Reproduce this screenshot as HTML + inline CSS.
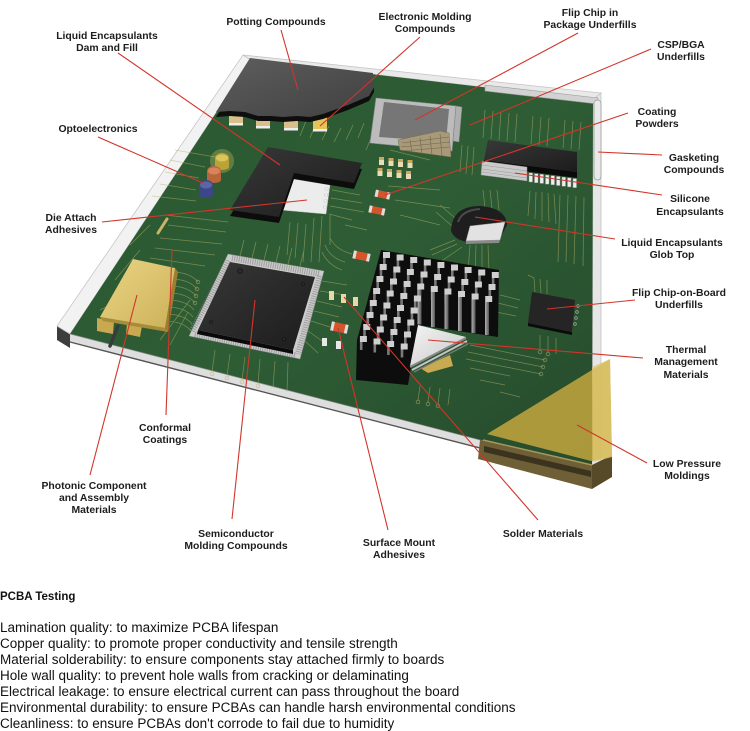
<!DOCTYPE html>
<html><head><meta charset="utf-8"><style>
html,body{margin:0;padding:0;background:#fff;width:750px;height:731px;overflow:hidden}
svg{display:block}
.l{font-family:"Liberation Sans",Arial,sans-serif;font-weight:bold;font-size:10.4px;fill:#1d1d1d;text-anchor:middle}
.t{font-family:"Liberation Sans",Arial,sans-serif;font-size:13.5px;fill:#111}
.h{font-family:"Liberation Sans",Arial,sans-serif;font-size:11.5px;font-weight:bold;fill:#111}
</style></head><body>
<svg width="750" height="731" viewBox="0 0 750 731" xmlns="http://www.w3.org/2000/svg">
<defs>
 <linearGradient id="gb" x1="0" y1="0" x2="1" y2="1">
  <stop offset="0" stop-color="#2a5730"/><stop offset="0.5" stop-color="#2e5d35"/><stop offset="1" stop-color="#264b2c"/>
 </linearGradient>
 <linearGradient id="gpot" x1="0" y1="0" x2="1" y2="1">
  <stop offset="0" stop-color="#5e5e5e"/><stop offset="1" stop-color="#404040"/>
 </linearGradient>
 <linearGradient id="gblk" x1="0" y1="0" x2="1" y2="1">
  <stop offset="0" stop-color="#383838"/><stop offset="1" stop-color="#1c1c1c"/>
 </linearGradient>
 <linearGradient id="ggold" x1="0" y1="0" x2="1" y2="1">
  <stop offset="0" stop-color="#ead584"/><stop offset="1" stop-color="#cdb15a"/>
 </linearGradient>
 <linearGradient id="gfin" x1="0" y1="0" x2="1" y2="0">
  <stop offset="0" stop-color="#b0b0b0"/><stop offset="1" stop-color="#555"/>
 </linearGradient>
 <linearGradient id="gpad" x1="0" y1="0" x2="1" y2="1">
  <stop offset="0" stop-color="#f4f4f4"/><stop offset="1" stop-color="#c8c8c8"/>
 </linearGradient>
 <g id="pt"><rect y="6" width="2.6" height="8" fill="#7a7a7a"/><rect width="7" height="6" fill="#cfcfcf"/></g>
</defs>

<!-- tray / walls -->
<polygon points="70,334 592,469 592,477 70,342" fill="#dedede"/>
<polyline points="70,342 592,477" fill="none" stroke="#555" stroke-width="1.4"/>
<polygon points="57,326 70,334 70,348 57,340" fill="#3d3d3d"/>
<polygon points="243,55 251,60 70,334 57,326" fill="#f2f2f2" stroke="#c6c6c6" stroke-width="0.8"/>
<polygon points="243,55 601,93 593,100 251,60" fill="#e9e9e9" stroke="#c4c4c4" stroke-width="0.8"/>
<polygon points="593,100 601,93 601,464 592,469" fill="#e6e6e6" stroke="#c4c4c4" stroke-width="0.8"/>

<!-- board -->
<polygon points="251,60 593,100 592,469 70,334" fill="url(#gb)"/>
<polyline points="70,334 592,469" fill="none" stroke="#8f8f8f" stroke-width="0.7"/>

<!-- traces -->
<path fill="none" stroke="#b8b36c" stroke-width="0.75" opacity="0.55" d="
M300,136 L306,121 M310,138 L316,123 M322,140 L329,126 M334,142 L341,128 M346,140 L353,125 M358,138 L364,123 M366,150 L372,136
M485,110 L483,138 M493,111 L491,139 M501,112 L499,140 M509,113 L507,141 M517,114 L515,142 M533,116 L531,144 M541,117 L539,145 M549,118 L547,146 M565,120 L563,148 M573,121 L571,149 M581,122 L579,150
M462,145 L460,172 M468,146 L466,174 M474,147 L472,175
M530,191 L528,216 M536,192 L535,219 M542,192 L542,221 M548,193 L549,222 M554,194 L556,224 M560,195 L558,262 M568,195 L566,262 M576,196 L574,264 M584,197 L583,266
M175,150 L215,157 M170,160 L205,167 M165,172 L199,178 M160,184 L196,190 M152,196 L196,201
M165,215 L228,222 M168,225 L226,232 M160,238 L222,244 M155,248 L215,255 M150,258 L205,266
M290,222 L287,255 M298,223 L295,258 M306,224 L303,262 M314,218 L311,262 M322,216 L319,262 M330,214 L330,245
M332,190 L360,195 M331,198 L362,203 M330,206 L364,212 M329,214 L352,220 M345,225 L367,230
M171,272 Q190,272 198,282 M170,279 Q189,279 197,289 M169,286 Q188,286 196,296 M168,293 Q187,293 195,303 M167,300 Q186,300 194,310 M166,307 Q185,307 193,317 M165,314 Q184,314 192,324 M164,321 Q183,321 191,331
M240,256 L244,240 M252,258 L256,242 M264,260 L268,244 M276,262 L280,246 M288,264 L292,248 M300,266 L304,250
M322,281 L347,285 M320,291 L345,295 M317,301 L342,307 M314,311 L339,317 M311,321 L330,327 M308,331 L322,341 M305,341 L318,353
M215,350 L212,372 M230,354 L227,376 M245,357 L242,380 M260,359 L258,384 M275,361 L273,388 M288,362 L287,392
M190,300 L160,340 M188,312 L170,345
M470,345 L545,360 M468,352 L543,367 M466,359 L541,374 M470,368 L510,376 M480,380 L505,385 M500,392 L520,397
M455,240 L430,250 M457,244 L432,255 M462,247 L440,262 M470,245 L468,272 M476,245 L475,275 M482,245 L482,275 M488,245 L489,272
M483,190 L485,208 M490,190 L492,208 M497,190 L499,210 M440,205 L455,218 M436,212 L452,226
M535,292 L534,278 L528,275 M541,293 L540,279 M547,294 L547,280 M520,300 L500,295 M518,308 L498,303 M516,316 L496,312 M540,335 L540,350 M548,336 L548,352 M556,338 L556,354
M325,245 Q330,258 345,262 M322,252 Q328,265 342,270 M330,238 Q336,250 352,254
M420,386 L418,400 M430,387 L428,402 M440,388 L438,404 M450,389 L448,405
M390,150 L430,160 M388,186 L440,190 M395,200 L450,208 M400,215 L440,225
M120,300 L100,310 M115,280 L140,250 M130,245 L150,225"/>
<g fill="none" stroke="#b9b070" stroke-width="0.8" opacity="0.6">
<circle cx="198" cy="282" r="1.8"/><circle cx="197" cy="289" r="1.8"/><circle cx="196" cy="296" r="1.8"/><circle cx="195" cy="303" r="1.8"/>
<circle cx="545" cy="360" r="1.8"/><circle cx="543" cy="367" r="1.8"/><circle cx="541" cy="374" r="1.8"/>
<circle cx="212" cy="374" r="1.8"/><circle cx="227" cy="378" r="1.8"/><circle cx="242" cy="382" r="1.8"/><circle cx="258" cy="386" r="1.8"/>
<circle cx="468" cy="274" r="1.8"/><circle cx="475" cy="277" r="1.8"/><circle cx="482" cy="277" r="1.8"/>
<circle cx="418" cy="402" r="1.8"/><circle cx="428" cy="404" r="1.8"/><circle cx="438" cy="406" r="1.8"/>
<circle cx="540" cy="352" r="1.8"/><circle cx="548" cy="354" r="1.8"/>
</g>

<!-- top rail + gasket -->
<polygon points="485,85 598,98 598,104 485,91" fill="#d2d2d2" stroke="#9a9a9a" stroke-width="0.6"/>
<rect x="594" y="100" width="7" height="80" rx="3.5" fill="#e9e9e9" stroke="#9d9d9d" stroke-width="0.8"/>

<!-- SMDs under potting -->
<g>
<rect x="229" y="113" width="14" height="12" fill="#d9c08a"/><rect x="229" y="123" width="14" height="2.5" fill="#eee"/>
<rect x="256" y="116" width="14" height="12" fill="#d9c08a"/><rect x="256" y="126" width="14" height="2.5" fill="#eee"/>
<rect x="284" y="118" width="14" height="12" fill="#d9c08a"/><rect x="284" y="128" width="14" height="2.5" fill="#eee"/>
<rect x="313" y="117" width="14" height="14" fill="#e6c25a"/><rect x="313" y="129" width="14" height="2.5" fill="#eee"/>
</g>
<!-- potting slab -->
<polygon transform="translate(0,5)" points="250,58 373,73 374,87 369,96 348,105 334,110 323,114 310,117 297,116 283,117 271,116 258,116 245,112 230,111 216,112" fill="#0e0e0e"/>
<polygon points="250,58 373,73 374,87 369,96 348,105 334,110 323,114 310,117 297,116 283,117 271,116 258,116 245,112 230,111 216,112" fill="url(#gpot)"/>

<!-- electronic molding chip -->
<polygon points="376,98 456,106 452,151 370,143" fill="#bcbcbc" stroke="#8a8a8a" stroke-width="0.6"/>
<polygon points="384,102 449,109 446,142 379,137" fill="#767676"/>
<polygon points="398,140 440,131 449,133 451,157 400,150" fill="#a89a78" stroke="#7a6e55" stroke-width="0.5"/>
<path d="M402,143 L449,137 M401,147 L450,142 M402,151 L450,147 M410,140 L412,153 M420,138 L422,154 M430,136 L432,155 M440,134 L442,156" stroke="#6e6350" stroke-width="0.6" fill="none"/>
<polygon points="456,106 462,107 459,142 453,141" fill="#b0b0b0" stroke="#808080" stroke-width="0.5"/>

<!-- tan SMD grid -->
<g fill="#e8ddb8">
<rect x="379" y="157" width="5" height="8"/><rect x="388.5" y="158" width="5" height="8"/><rect x="398" y="159" width="5" height="8"/><rect x="407.5" y="160" width="5" height="8"/>
<rect x="377.5" y="168" width="5" height="8"/><rect x="387" y="169" width="5" height="8"/><rect x="396.5" y="170" width="5" height="8"/><rect x="406" y="171" width="5" height="8"/>
</g>
<g fill="#c9a860">
<rect x="379" y="157" width="5" height="3"/><rect x="388.5" y="158" width="5" height="3"/><rect x="398" y="159" width="5" height="3"/><rect x="407.5" y="160" width="5" height="3"/>
<rect x="377.5" y="168" width="5" height="3"/><rect x="387" y="169" width="5" height="3"/><rect x="396.5" y="170" width="5" height="3"/><rect x="406" y="171" width="5" height="3"/>
</g>

<!-- orange SMDs -->
<g transform="rotate(12 382 195)"><rect x="375" y="191" width="15" height="7" fill="#d4552c"/><rect x="375" y="191" width="3" height="7" fill="#ddd"/><rect x="387" y="191" width="3" height="7" fill="#ddd"/></g>
<g transform="rotate(12 377 210)"><rect x="369" y="207" width="16" height="7" fill="#d4552c"/><rect x="369" y="207" width="3" height="7" fill="#ddd"/><rect x="382" y="207" width="3" height="7" fill="#ddd"/></g>
<g transform="rotate(12 361 256)"><rect x="353" y="252" width="17" height="8" fill="#d4552c"/><rect x="353" y="252" width="3" height="8" fill="#ddd"/><rect x="367" y="252" width="3" height="8" fill="#ddd"/></g>
<g transform="rotate(12 339 327)"><rect x="331" y="323" width="17" height="9" fill="#d4552c"/><rect x="331" y="323" width="3" height="9" fill="#ddd"/><rect x="345" y="323" width="3" height="9" fill="#ddd"/></g>

<!-- small pads -->
<rect x="329" y="291" width="5" height="9" fill="#e6d8a8"/><rect x="341" y="294" width="5" height="9" fill="#e6d8a8"/><rect x="353" y="297" width="5" height="9" fill="#e6d8a8"/>
<rect x="322" y="338" width="5" height="8" fill="#e8e8e8"/><rect x="336" y="341" width="5" height="8" fill="#e8e8e8"/>

<!-- SOIC -->
<polygon points="484,160 577,172 577,178 484,166" fill="#0a0a0a"/>
<polygon points="488,140 577,152 577,172 484,160" fill="url(#gblk)"/>
<g fill="#eee" stroke="#999" stroke-width="0.4">
<rect x="529" y="173" width="3.5" height="9"/><rect x="534.5" y="173.7" width="3.5" height="9"/><rect x="540" y="174.4" width="3.5" height="9"/><rect x="545.5" y="175.1" width="3.5" height="9"/><rect x="551" y="175.8" width="3.5" height="9"/><rect x="556.5" y="176.5" width="3.5" height="9"/><rect x="562" y="177.2" width="3.5" height="9"/><rect x="567.5" y="177.9" width="3.5" height="9"/><rect x="573" y="178.6" width="3.5" height="9"/>
</g>
<polygon points="482,161 527,167 527,181 481,175" fill="#cacaca" stroke="#8a8a8a" stroke-width="0.5"/>
<path d="M482,165 L527,171 M482,169 L527,175 M482,172 L527,178" stroke="#9a9a9a" stroke-width="0.5"/>

<!-- glob top -->
<path d="M451,231 Q452,206 480,206 Q506,208 507,225 L500,238 L470,242 Q455,241 451,231Z" fill="#1e1e1e"/>
<path d="M458,222 Q462,210 480,209" stroke="#4a4a4a" stroke-width="2" fill="none"/>
<polygon points="470,226 505,222 500,240 466,241" fill="#e2e2e2" stroke="#999" stroke-width="0.5"/>
<polygon points="466,241 500,240 499,243 466,244" fill="#8a8a8a"/>

<!-- flip chip on board -->
<polygon points="528,323 572,332 572,335 528,326" fill="#0b0b0b"/>
<polygon points="532,292 575,300 572,332 528,323" fill="#252525"/>
<g fill="none" stroke="#bbb" stroke-width="0.6"><circle cx="578" cy="306" r="1.3"/><circle cx="577" cy="312" r="1.3"/><circle cx="576" cy="318" r="1.3"/><circle cx="575" cy="324" r="1.3"/></g>

<!-- white die square + L dam -->
<polygon points="293,179 330,185 326,214 281,210" fill="#ececec" stroke="#bdbdbd" stroke-width="0.5"/>
<g fill="#fff" stroke="#aaa" stroke-width="0.4"><rect x="325" y="188" width="3" height="2"/><rect x="324.5" y="194" width="3" height="2"/><rect x="324" y="200" width="3" height="2"/><rect x="323.5" y="206" width="3" height="2"/></g>
<polygon transform="translate(0,6)" points="268,147 362,163 354,183 294,173 279,217 230,210" fill="#0c0c0c"/>
<polygon points="268,147 362,163 354,183 294,173 279,217 230,210" fill="url(#gblk)"/>

<!-- LEDs -->
<circle cx="222" cy="161" r="12" fill="#d8d070" opacity="0.3"/>
<path d="M215,158 a7,5 0 0 1 14,0 v9 a7,3 0 0 1 -14,0z" fill="#bba236"/>
<ellipse cx="222" cy="158" rx="6" ry="3.5" fill="#d8c65a"/>
<path d="M207,171 a7,5 0 0 1 14,0 v9 a7,3 0 0 1 -14,0z" fill="#b8663a"/>
<ellipse cx="214" cy="171" rx="6" ry="3.5" fill="#d6855a"/>
<path d="M199,185 a7,5 0 0 1 14,0 v10 a7,3 0 0 1 -14,0z" fill="#3b4789"/>
<ellipse cx="206" cy="185" rx="6" ry="3.5" fill="#5a66a6"/>

<!-- die attach strip -->
<line x1="158" y1="233" x2="167" y2="219" stroke="#c9b46a" stroke-width="3" stroke-linecap="round"/>

<!-- photonic box -->
<polygon points="97,318 114,321 113,334 97,331" fill="#c8a850"/>
<polygon points="127,323 142,326 140,337 126,334" fill="#c8a850"/>
<path d="M118,326 L110,346" stroke="#3a3a3a" stroke-width="3.5" stroke-linecap="round"/>
<polygon points="175,268 178,272 168,332 165,328" fill="#9a8030"/>
<polygon points="100,317 165,328 168,332 103,321" fill="#a88c38"/>
<polygon points="133,259 175,268 165,328 100,317" fill="url(#ggold)"/>

<!-- QFP -->
<polygon points="228,254 324,271 300,359 189,336" fill="#cbcbcb" stroke="#8a8a8a" stroke-width="0.5"/>
<g stroke="#8c8c8c" stroke-width="6" stroke-dasharray="1 1.3" opacity="0.7">
<line x1="232" y1="258" x2="320" y2="274"/><line x1="320" y1="276" x2="298" y2="354"/><line x1="295" y1="355" x2="194" y2="334"/><line x1="192" y1="331" x2="229" y2="260"/>
</g>
<polygon points="198,330 293,350 293,354 197,334" fill="#0a0a0a"/>
<polygon points="230,262 315,277 293,350 198,330" fill="url(#gblk)"/>
<g fill="#2b2b2b" stroke="#111" stroke-width="0.6"><circle cx="240" cy="271" r="2.5"/><circle cx="303" cy="284" r="1.5"/><circle cx="284" cy="339" r="1.5"/><circle cx="211" cy="322" r="1.5"/></g>

<!-- heatsink -->
<polygon points="381,250 499,270 498,337 418,325 408,385 356,380 357,340" fill="#0d0d0d"/>
<use href="#pt" x="383" y="252"/><use href="#pt" x="396.6" y="254.5"/><use href="#pt" x="410.2" y="257"/><use href="#pt" x="423.8" y="259.5"/><use href="#pt" x="437.4" y="262"/><use href="#pt" x="451" y="264.5"/><use href="#pt" x="464.6" y="267"/><use href="#pt" x="478.2" y="269.5"/><use href="#pt" x="491.8" y="272"/>
<use href="#pt" x="379.7" y="264"/><use href="#pt" x="393.3" y="266.5"/><use href="#pt" x="406.9" y="269"/><use href="#pt" x="420.5" y="271.5"/><use href="#pt" x="434.1" y="274"/><use href="#pt" x="447.7" y="276.5"/><use href="#pt" x="461.3" y="279"/><use href="#pt" x="474.9" y="281.5"/><use href="#pt" x="488.5" y="284"/>
<use href="#pt" x="376.4" y="276"/><use href="#pt" x="390" y="278.5"/><use href="#pt" x="403.6" y="281"/><use href="#pt" x="417.2" y="283.5"/><use href="#pt" x="430.8" y="286"/><use href="#pt" x="444.4" y="288.5"/><use href="#pt" x="458" y="291"/><use href="#pt" x="471.6" y="293.5"/><use href="#pt" x="485.2" y="296"/>
<g fill="url(#gfin)">
<rect x="417.5" y="289.5" width="4" height="35"/><rect x="431" y="292" width="4" height="35"/><rect x="444.5" y="294.5" width="4" height="34.5"/><rect x="458" y="297" width="4" height="34"/><rect x="471.5" y="299.5" width="4" height="33.5"/><rect x="485" y="302" width="4" height="33"/>
</g>
<use href="#pt" x="373.1" y="288"/><use href="#pt" x="386.7" y="290.5"/><use href="#pt" x="400.3" y="293"/><use href="#pt" x="413.9" y="295.5"/>
<use href="#pt" x="369.8" y="300"/><use href="#pt" x="383.4" y="302.5"/><use href="#pt" x="397" y="305"/><use href="#pt" x="410.6" y="307.5"/>
<use href="#pt" x="366.5" y="312"/><use href="#pt" x="380.1" y="314.5"/><use href="#pt" x="393.7" y="317"/><use href="#pt" x="407.3" y="319.5"/>
<use href="#pt" x="363.2" y="324"/><use href="#pt" x="376.8" y="326.5"/><use href="#pt" x="390.4" y="329"/><use href="#pt" x="404" y="331.5"/>
<use href="#pt" x="359.9" y="336"/><use href="#pt" x="373.5" y="338.5"/><use href="#pt" x="387.1" y="341"/><use href="#pt" x="400.7" y="343.5"/>
<!-- thermal pad -->
<polygon points="420,368 450,355 453,366 428,373" fill="#c8aa50"/>
<polygon points="418,325 466,337 410,366" fill="url(#gpad)"/>
<line x1="466" y1="338" x2="410" y2="367" stroke="#8a8a8a" stroke-width="2"/>
<line x1="467" y1="341" x2="412" y2="370" stroke="#c4c4c4" stroke-width="2"/>
<line x1="468" y1="344" x2="414" y2="372" stroke="#777" stroke-width="1.4"/>

<!-- low pressure molding -->
<polygon points="480,440 592,465 592,489 478,459" fill="#6e5f36"/>
<polygon points="592,465 612,455 612,477 592,489" fill="#574a29"/>
<polygon points="484,446 591,471 591,477 484,452" fill="#2e2818" opacity="0.8"/>
<line x1="483" y1="440" x2="592" y2="465" stroke="#a89660" stroke-width="1.5"/>
<polygon points="487,434 610,359 612,457 591,461" fill="#c8aa3e" opacity="0.82"/>
<polygon points="592,367 610,359 612,457 593,462" fill="#dcc46a" opacity="0.7"/>

<!-- red leader lines -->
<g stroke="#d2352a" stroke-width="1.1" fill="none">
<line x1="281" y1="30" x2="298" y2="90"/>
<line x1="118" y1="53" x2="280" y2="165"/>
<line x1="420" y1="37" x2="320" y2="126"/>
<line x1="578" y1="33" x2="415" y2="120"/>
<line x1="651" y1="49" x2="470" y2="125"/>
<line x1="628" y1="113" x2="385" y2="195"/>
<line x1="662" y1="155" x2="598" y2="152"/>
<line x1="662" y1="195" x2="515" y2="173"/>
<line x1="615" y1="239" x2="475" y2="217"/>
<line x1="635" y1="300" x2="547" y2="309"/>
<line x1="643" y1="358" x2="428" y2="340"/>
<line x1="647" y1="463" x2="577" y2="425"/>
<line x1="538" y1="520" x2="344" y2="297"/>
<line x1="388" y1="530" x2="338" y2="328"/>
<line x1="232" y1="519" x2="255" y2="300"/>
<line x1="90" y1="475" x2="137" y2="295"/>
<line x1="166" y1="415" x2="172" y2="250"/>
<line x1="102" y1="222" x2="307" y2="200"/>
<line x1="98" y1="137" x2="203" y2="183"/>
</g>

<!-- labels -->
<text class="l" x="276" y="25">Potting Compounds</text>
<text class="l" x="107" y="39">Liquid Encapsulants</text><text class="l" x="107" y="51">Dam and Fill</text>
<text class="l" x="98" y="132">Optoelectronics</text>
<text class="l" x="71" y="221">Die Attach</text><text class="l" x="71" y="233">Adhesives</text>
<text class="l" x="425" y="20">Electronic Molding</text><text class="l" x="425" y="32">Compounds</text>
<text class="l" x="590" y="16">Flip Chip in</text><text class="l" x="590" y="28">Package Underfills</text>
<text class="l" x="681" y="48">CSP/BGA</text><text class="l" x="681" y="60">Underfills</text>
<text class="l" x="657" y="115">Coating</text><text class="l" x="657" y="127">Powders</text>
<text class="l" x="694" y="161">Gasketing</text><text class="l" x="694" y="173">Compounds</text>
<text class="l" x="690" y="202">Silicone</text><text class="l" x="690" y="215">Encapsulants</text>
<text class="l" x="672" y="246">Liquid Encapsulants</text><text class="l" x="672" y="258">Glob Top</text>
<text class="l" x="679" y="296">Flip Chip-on-Board</text><text class="l" x="679" y="308">Underfills</text>
<text class="l" x="686" y="353">Thermal</text><text class="l" x="686" y="365">Management</text><text class="l" x="686" y="378">Materials</text>
<text class="l" x="687" y="467">Low Pressure</text><text class="l" x="687" y="479">Moldings</text>
<text class="l" x="543" y="537">Solder Materials</text>
<text class="l" x="399" y="546">Surface Mount</text><text class="l" x="399" y="558">Adhesives</text>
<text class="l" x="236" y="537">Semiconductor</text><text class="l" x="236" y="549">Molding Compounds</text>
<text class="l" x="165" y="431">Conformal</text><text class="l" x="165" y="443">Coatings</text>
<text class="l" x="94" y="489">Photonic Component</text><text class="l" x="94" y="501">and Assembly</text><text class="l" x="94" y="513">Materials</text>

<!-- bottom text -->
<text class="h" x="0" y="600">PCBA Testing</text>
<text class="t" x="0" y="632">Lamination quality: to maximize PCBA lifespan</text>
<text class="t" x="0" y="648">Copper quality: to promote proper conductivity and tensile strength</text>
<text class="t" x="0" y="664">Material solderability: to ensure components stay attached firmly to boards</text>
<text class="t" x="0" y="680">Hole wall quality: to prevent hole walls from cracking or delaminating</text>
<text class="t" x="0" y="696">Electrical leakage: to ensure electrical current can pass throughout the board</text>
<text class="t" x="0" y="712">Environmental durability: to ensure PCBAs can handle harsh environmental conditions</text>
<text class="t" x="0" y="728">Cleanliness: to ensure PCBAs don't corrode to fail due to humidity</text>
</svg>
</body></html>
